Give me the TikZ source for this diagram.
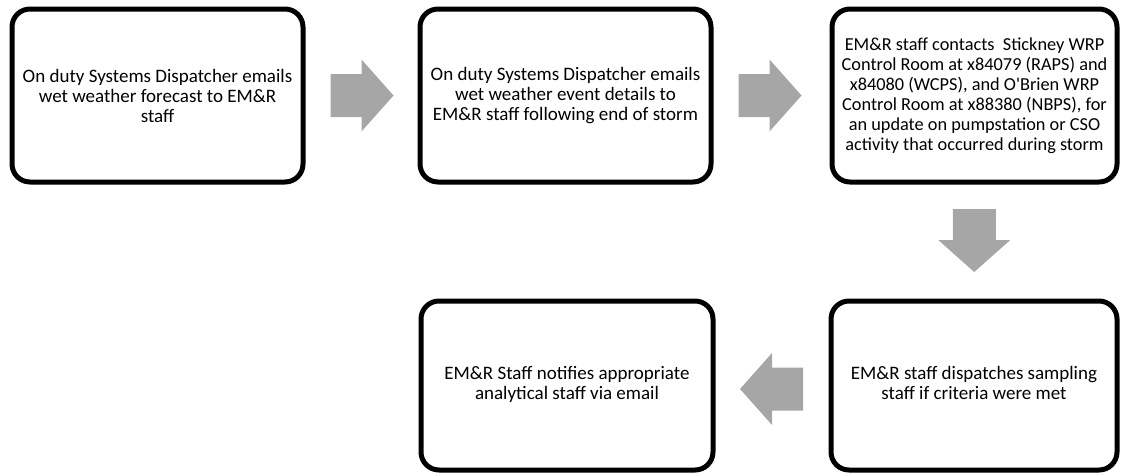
\documentclass[tikz,border=0pt]{standalone}
\usepackage{fontspec}
\newfontfamily\calfont{Carlito}
\usetikzlibrary{calc}
\definecolor{arrowgray}{HTML}{A6A6A6}
\tikzset{
  stepbox/.style={draw=black, fill=white, line width=5pt, rounded corners=18pt,
    inner sep=0pt, outer sep=0pt, align=center,
    font=\calfont\fontsize{19}{20}\selectfont},
  blockarrow/.pic={\fill[arrowgray] (-31,21.5) -- (0,21.5) -- (0,36) -- (32,0)
    -- (0,-36) -- (0,-21.5) -- (-31,-21.5) -- cycle;}
}
\begin{document}
\begin{tikzpicture}[x=1pt,y=-1pt]
\useasboundingbox (0,0) rectangle (1121,475);
\node[stepbox, minimum width=291pt, minimum height=173pt] (b1) at (157.5,95.5)
  {On duty Systems Dispatcher emails\\wet weather forecast to EM\&R\\staff};
\node[stepbox, minimum width=291pt, minimum height=173pt] (b2) at (565.5,95.5)
  {On duty Systems Dispatcher emails\\wet weather event details to\\EM\&R staff following end of storm};
\node[stepbox, minimum width=285pt, minimum height=173pt,
      font=\calfont\fontsize{18.3}{20}\selectfont] (b3) at (974.5,95.5)
  {EM\&R staff contacts~ Stickney WRP\\Control Room at x84079 (RAPS) and\\x84080 (WCPS), and O'Brien WRP\\Control Room at x88380 (NBPS), for\\an update on pumpstation or CSO\\activity that occurred during storm};
\node[stepbox, minimum width=286pt, minimum height=169pt] (b4) at (974,385.5)
  {\raisebox{-3pt}{\begin{tabular}{@{}c@{}}EM\&R staff dispatches sampling\\staff if criteria were met\end{tabular}}};
\node[stepbox, minimum width=292pt, minimum height=169pt] (b5) at (567,385.5)
  {\raisebox{-3pt}{\begin{tabular}{@{}c@{}}EM\&R Staff notifies appropriate\\analytical staff via email\end{tabular}}};
\coordinate (m1) at ($(b1.east)!0.5!(b2.west)$);
\coordinate (m2) at ($(b2.east)!0.5!(b3.west)+(-2,0)$);
\coordinate (m3) at ($(b3.south)!0.5!(b4.north)+(0,-1.5)$);
\coordinate (m4) at ($(b4.west)!0.5!(b5.east)+(0,3.5)$);
\pic at (m1) {blockarrow};
\pic at (m2) {blockarrow};
\pic[rotate=-90] at (m3) {blockarrow};
\pic[rotate=180] at (m4) {blockarrow};
\end{tikzpicture}
\end{document}
